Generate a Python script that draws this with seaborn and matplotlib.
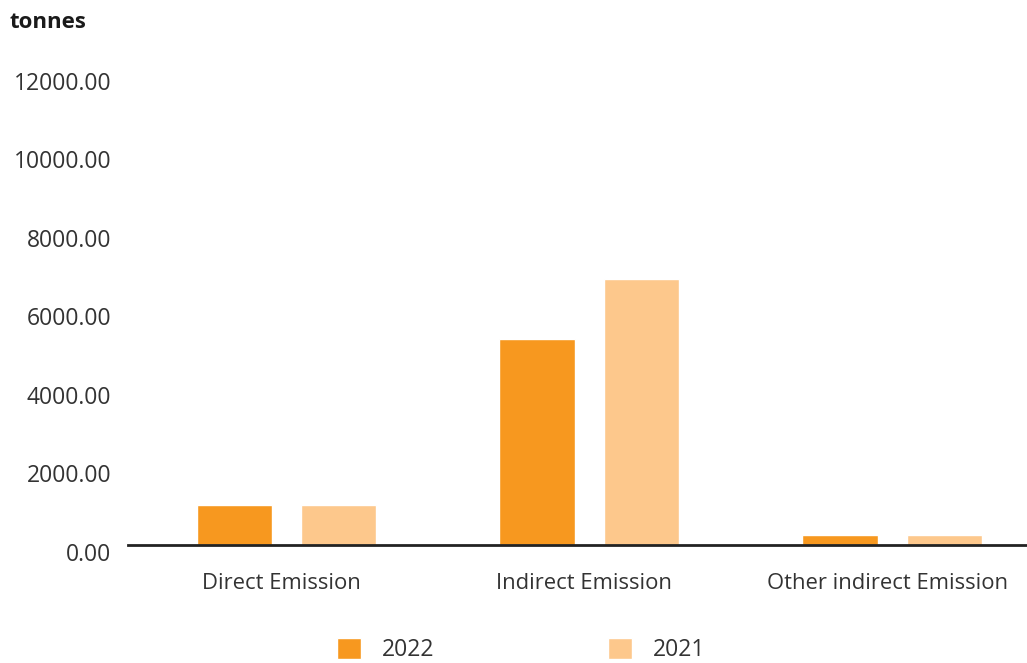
import matplotlib
matplotlib.use("Agg")
import matplotlib.pyplot as plt
import matplotlib.transforms as mtransforms
import seaborn as sns
import pandas as pd

categories = ["Direct Emission", "Indirect Emission", "Other indirect Emission"]
values_2022 = [1030, 5250, 250]
values_2021 = [1030, 6770, 250]
years = ["2022", "2021"]
y_ticks = [0, 2000, 4000, 6000, 8000, 10000, 12000]

df = pd.DataFrame({
    "category": categories * 2,
    "year": [years[0]] * 3 + [years[1]] * 3,
    "value": values_2022 + values_2021,
})

sns.set_theme(style="white")
plt.rcParams["font.family"] = ["Open Sans", "DejaVu Sans"]
text_color = "#333333"

fig = plt.figure(figsize=(10.27, 6.63), dpi=100)
ax = fig.add_axes([0.1246, 0.178, 0.8754, 0.711])

sns.barplot(data=df, x="category", y="value", hue="year", hue_order=years,
            palette={"2022": "#F7981F", "2021": "#FDC88C"},
            width=0.69, gap=0.28, saturation=1, ax=ax, legend=True)

ax.set_xlim(-0.523, 2.445)
ax.set_ylim(0, 12000)
ax.set_yticks(y_ticks)
ax.set_yticklabels([f"{v:.2f}" for v in y_ticks])
ax.set_xlabel("")
ax.set_ylabel("")

for s in ["top", "right", "left"]:
    ax.spines[s].set_visible(False)
ax.spines["bottom"].set_color("#222222")
ax.spines["bottom"].set_linewidth(2)
ax.grid(False)

ax.tick_params(axis="y", length=0, pad=12, labelsize=16.5, labelcolor=text_color)
ax.tick_params(axis="x", length=0, pad=20, labelsize=15.8, labelcolor=text_color)

offset = mtransforms.ScaledTranslation(0, -7 / 100, fig.dpi_scale_trans)
for lab in ax.get_yticklabels():
    lab.set_transform(lab.get_transform() + offset)
xoff = mtransforms.ScaledTranslation(-5 / 100, 0, fig.dpi_scale_trans)
for lab in ax.get_xticklabels():
    lab.set_transform(lab.get_transform() + xoff)

handles, labels = ax.get_legend_handles_labels()
ax.get_legend().remove()
leg = fig.legend(handles, labels, loc="center", bbox_to_anchor=(521 / 1027, 1 - 650 / 663),
                 ncol=2, frameon=False, fontsize=16.5, handlelength=1.05, handleheight=1.05,
                 handletextpad=0.9, columnspacing=7.6)
for t in leg.get_texts():
    t.set_color(text_color)

fig.text(10 / 1027, 1 - 22 / 663, "tonnes", fontsize=16, fontweight="bold",
         color="#1a1a1a", va="center", ha="left")

fig.savefig("out.png", dpi=100, facecolor="white")
